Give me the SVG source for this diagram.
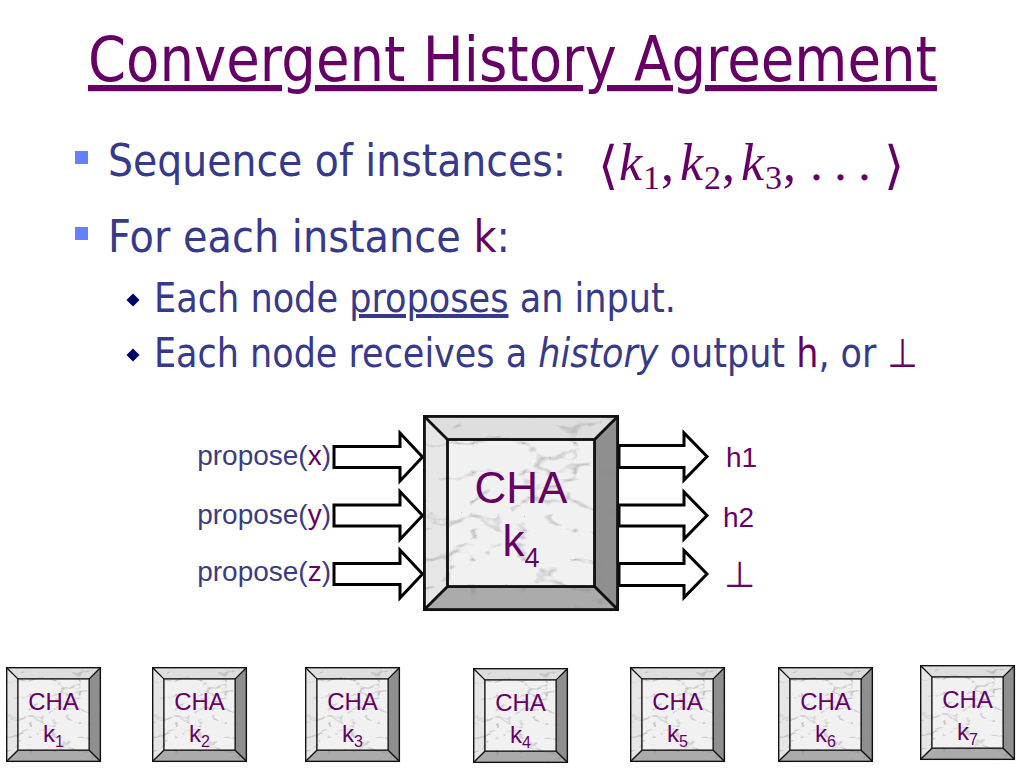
<svg xmlns="http://www.w3.org/2000/svg" xmlns:xlink="http://www.w3.org/1999/xlink" width="1024" height="768" viewBox="0 0 1024 768">
  <style>
    .body { font-family: "DejaVu Sans", "Noto Sans", sans-serif; fill: #36398c; }
    .title { font-family: "DejaVu Sans", "Noto Sans", sans-serif; fill: #660066; font-size: 62px; }
    .lbl { font-family: "Liberation Sans", Arial, sans-serif; font-size: 28px; fill: #3c3c82; }
    .pur { fill: #660066; }
    .cha { font-family: "Liberation Sans", Arial, sans-serif; fill: #660066; text-anchor: middle; }
    .math { font-family: "Liberation Serif", "DejaVu Serif", serif; fill: #660066; }
    .arrow { fill: #ffffff; stroke: #000000; stroke-width: 3; stroke-linejoin: miter; }
    .edge { fill: none; stroke: #111111; stroke-width: 1.4; }
  </style>
  <defs>
    <filter id="marble" x="0" y="0" width="1" height="1" color-interpolation-filters="sRGB">
      <feTurbulence type="turbulence" baseFrequency="0.04 0.07" numOctaves="3" seed="11" result="n"/>
      <feColorMatrix in="n" type="matrix" values="0 0 0 0 0.55  0 0 0 0 0.55  0 0 0 0 0.55  -3 0 0 0 0.5" result="veins"/>
      <feComposite in="veins" in2="SourceAlpha" operator="in" result="v2"/>
      <feMerge>
        <feMergeNode in="SourceGraphic"/>
        <feMergeNode in="v2"/>
      </feMerge>
    </filter>
    <g id="boxFill" filter="url(#marble)">
      <rect width="96" height="96" fill="#e9e9e9"/>
      <polygon points="0,0 96,0 84,12 12,12" fill="#dedede"/>
      <polygon points="0,0 12,12 12,84 0,96" fill="#e6e6e6"/>
      <polygon points="96,0 96,96 84,84 84,12" fill="#8f8f8f"/>
      <polygon points="0,96 96,96 84,84 12,84" fill="#ababab"/>
      <rect x="12" y="12" width="72" height="72" fill="#f1f1f1"/>
    </g>
    <g id="boxLines">
      <rect x="0.7" y="0.7" width="94.6" height="94.6" class="edge"/>
      <rect x="12" y="12" width="72" height="72" class="edge"/>
      <path d="M0.7,0.7 L12,12 M95.3,0.7 L84,12 M0.7,95.3 L12,84 M95.3,95.3 L84,84" class="edge"/>
    </g>
    <g id="box">
      <use xlink:href="#boxFill"/>
      <use xlink:href="#boxLines"/>
    </g>
  </defs>

  <rect width="1024" height="768" fill="#ffffff"/>

  <g id="title">
    <text class="title" x="88" y="81" textLength="849" lengthAdjust="spacingAndGlyphs" text-decoration="underline">Convergent History Agreement</text>
  </g>

  <g id="bullets">
    <rect x="75" y="151" width="13" height="13" fill="#6680ff"/>
    <text class="body" x="108" y="176" font-size="45" textLength="458" lengthAdjust="spacingAndGlyphs">Sequence of instances:</text>
    <g id="math" class="math">
      <text x="598" y="183" font-size="52" font-family="DejaVu Serif, serif" font-weight="200" class="math">⟨</text>
      <text x="619" y="180" font-size="52" font-style="italic">k</text>
      <text x="643" y="189" font-size="34">1</text>
      <text x="661" y="180" font-size="52">,</text>
      <text x="680" y="180" font-size="52" font-style="italic">k</text>
      <text x="704" y="189" font-size="34">2</text>
      <text x="722" y="180" font-size="52">,</text>
      <text x="741" y="180" font-size="52" font-style="italic">k</text>
      <text x="765" y="189" font-size="34">3</text>
      <text x="783" y="180" font-size="52">,</text>
      <text x="810" y="180" font-size="52">.</text>
      <text x="834" y="180" font-size="52">.</text>
      <text x="858" y="180" font-size="52">.</text>
      <text x="884" y="183" font-size="52" font-family="DejaVu Serif, serif" font-weight="200" class="math">⟩</text>
    </g>

    <rect x="75" y="227" width="13" height="13" fill="#6680ff"/>
    <text class="body" x="108" y="252" font-size="45" textLength="402" lengthAdjust="spacingAndGlyphs">For each instance <tspan class="pur">k</tspan>:</text>

    <polygon points="133,293.5 139.5,300 133,306.5 126.5,300" fill="#000066"/>
    <text class="body" x="154" y="312" font-size="40" textLength="522" lengthAdjust="spacingAndGlyphs">Each node <tspan text-decoration="underline">proposes</tspan> an input.</text>

    <polygon points="133,348.5 139.5,355 133,361.5 126.5,355" fill="#000066"/>
    <text class="body" x="154" y="367" font-size="40" textLength="764" lengthAdjust="spacingAndGlyphs">Each node receives a <tspan font-style="italic">history</tspan> output <tspan class="pur">h</tspan>, or <tspan class="pur">⊥</tspan></text>
  </g>

  <g id="connectors">
    <polygon class="arrow" points="334,446.5 400,446.5 400,433 422.5,457 400,481 400,467.5 334,467.5"/>
    <polygon class="arrow" points="334,505 400,505 400,491.5 422.5,515.5 400,539.5 400,526 334,526"/>
    <polygon class="arrow" points="334,563.5 400,563.5 400,550 422.5,574 400,598 400,584.5 334,584.5"/>
    <polygon class="arrow" points="619,445.5 684,445.5 684,433 707,456.5 684,480 684,467.5 619,467.5"/>
    <polygon class="arrow" points="619,505 684,505 684,492 707,515.5 684,539 684,526 619,526"/>
    <polygon class="arrow" points="619,563.5 684,563.5 684,550.5 707,574 684,597.5 684,585.5 619,585.5"/>
  </g>

  <g id="input-labels">
    <text class="lbl" x="331" y="465" text-anchor="end">propose(<tspan class="pur">x</tspan>)</text>
    <text class="lbl" x="331" y="524" text-anchor="end">propose(<tspan class="pur">y</tspan>)</text>
    <text class="lbl" x="331" y="581" text-anchor="end">propose(<tspan class="pur">z</tspan>)</text>
  </g>

  <g id="output-labels">
    <text x="726" y="467" font-family="Liberation Sans, Arial, sans-serif" font-size="28" fill="#660066">h1</text>
    <text x="723" y="527" font-family="Liberation Sans, Arial, sans-serif" font-size="28" fill="#660066">h2</text>
    <text x="724" y="587" font-family="DejaVu Sans, sans-serif" font-size="36" font-weight="200" fill="#660066">⊥</text>
  </g>

  <g id="cha-main">
    <use xlink:href="#box" transform="translate(423,415) scale(2.042)"/>
    <text class="cha" x="521" y="503" font-size="44">CHA</text>
    <text class="cha" x="521" y="556" font-size="44">k<tspan font-size="27" dy="11">4</tspan></text>
  </g>

  <g id="cha-k1">
    <use xlink:href="#box" transform="translate(6,667) scale(0.99)"/>
    <text class="cha" x="53.5" y="710" font-size="24">CHA</text>
    <text class="cha" x="53.5" y="742" font-size="24">k<tspan font-size="16" dy="5">1</tspan></text>
  </g>
  <g id="cha-k2">
    <use xlink:href="#box" transform="translate(152,667) scale(0.99)"/>
    <text class="cha" x="199.5" y="710" font-size="24">CHA</text>
    <text class="cha" x="199.5" y="742" font-size="24">k<tspan font-size="16" dy="5">2</tspan></text>
  </g>
  <g id="cha-k3">
    <use xlink:href="#box" transform="translate(305,667) scale(0.99)"/>
    <text class="cha" x="352.5" y="710" font-size="24">CHA</text>
    <text class="cha" x="352.5" y="742" font-size="24">k<tspan font-size="16" dy="5">3</tspan></text>
  </g>
  <g id="cha-k4">
    <use xlink:href="#box" transform="translate(473,668) scale(0.99)"/>
    <text class="cha" x="520.5" y="711" font-size="24">CHA</text>
    <text class="cha" x="520.5" y="743" font-size="24">k<tspan font-size="16" dy="5">4</tspan></text>
  </g>
  <g id="cha-k5">
    <use xlink:href="#box" transform="translate(630,667) scale(0.99)"/>
    <text class="cha" x="677.5" y="710" font-size="24">CHA</text>
    <text class="cha" x="677.5" y="742" font-size="24">k<tspan font-size="16" dy="5">5</tspan></text>
  </g>
  <g id="cha-k6">
    <use xlink:href="#box" transform="translate(778,667) scale(0.99)"/>
    <text class="cha" x="825.5" y="710" font-size="24">CHA</text>
    <text class="cha" x="825.5" y="742" font-size="24">k<tspan font-size="16" dy="5">6</tspan></text>
  </g>
  <g id="cha-k7">
    <use xlink:href="#box" transform="translate(920,665) scale(0.99)"/>
    <text class="cha" x="967.5" y="708" font-size="24">CHA</text>
    <text class="cha" x="967.5" y="740" font-size="24">k<tspan font-size="16" dy="5">7</tspan></text>
  </g>
</svg>
